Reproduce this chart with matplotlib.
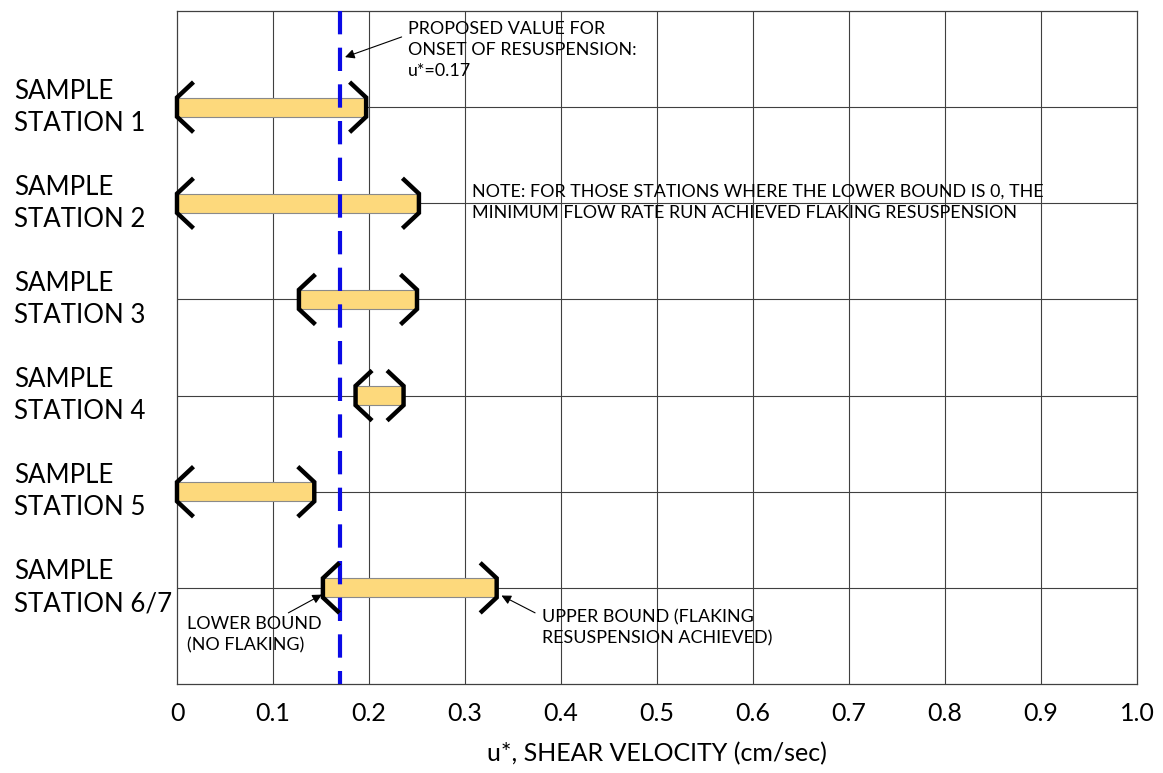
import numpy as np
import matplotlib.pyplot as plt
from matplotlib.transforms import blended_transform_factory

plt.rcParams['font.family'] = ['Lato', 'DejaVu Sans']

stations = ["SAMPLE\nSTATION 1", "SAMPLE\nSTATION 2", "SAMPLE\nSTATION 3",
            "SAMPLE\nSTATION 4", "SAMPLE\nSTATION 5", "SAMPLE\nSTATION 6/7"]
lower = [0.0, 0.0, 0.127, 0.186, 0.0, 0.152]
upper = [0.197, 0.252, 0.250, 0.236, 0.143, 0.333]
onset = 0.17
x_ticks = [0, 0.1, 0.2, 0.3, 0.4, 0.5, 0.6, 0.7, 0.8, 0.9, 1.0]
x_tick_labels = ["0", "0.1", "0.2", "0.3", "0.4", "0.5", "0.6", "0.7", "0.8", "0.9", "1.0"]

fig = plt.figure(figsize=(11.63, 7.73), dpi=100)
ax = fig.add_axes([177 / 1163, 1 - 684 / 773, 960 / 1163, 673 / 773])

rows = np.arange(1, len(stations) + 1)
ax.set_xlim(0, 1.0)
ax.set_ylim(7, 0)

# grid
for x in x_ticks[1:-1]:
    ax.axvline(x, color="#404040", lw=0.8, zorder=1)
for r in rows:
    ax.axhline(r, color="#404040", lw=0.8, zorder=1)
for s in ax.spines.values():
    s.set_color("#404040")
    s.set_linewidth(0.9)

# range bars
ax.barh(rows, np.array(upper) - np.array(lower), left=lower, height=0.2,
        color="#fdd97c", edgecolor="#8a8a8a", linewidth=0.8, zorder=2)

# bracket end caps
dx, tip, mid = 0.0155, 0.245, 0.1
for r, lo, hi in zip(rows, lower, upper):
    ax.plot([lo + dx, lo, lo, lo + dx], [r - tip, r - mid, r + mid, r + tip],
            color="black", lw=3.2, solid_joinstyle="miter", zorder=4, clip_on=False)
    ax.plot([hi - dx, hi, hi, hi - dx], [r - tip, r - mid, r + mid, r + tip],
            color="black", lw=3.2, solid_joinstyle="miter", zorder=4, clip_on=False)

# proposed onset line
ax.plot([onset, onset], [0, 7], color="#0a0ae6", lw=3.0,
        linestyle=(0, (5.6, 3.2)), zorder=3, clip_on=False)

# ticks / labels
ax.set_xticks(x_ticks)
ax.set_xticklabels(x_tick_labels, fontsize=18)
ax.tick_params(axis="x", length=0, pad=13)
ax.set_yticks([])
ax.set_xlabel("u*, SHEAR VELOCITY (cm/sec)", fontsize=18, labelpad=12)

trans = blended_transform_factory(fig.transFigure, ax.transData)
for r, name in zip(rows, stations):
    ax.text(14 / 1163, r, name, transform=trans, ha="left", va="center",
            fontsize=18.6, linespacing=1.36)

# annotations
fs = 12.9
arrow = dict(arrowstyle="-|>", color="black", lw=0.8,
             mutation_scale=14, shrinkA=0, shrinkB=0)
ax.text(0.2406, 0.41, "PROPOSED VALUE FOR\nONSET OF RESUSPENSION:\nu*=0.17",
        ha="left", va="center", fontsize=fs, linespacing=1.38)
ax.annotate("", xy=(0.175, 0.48), xytext=(0.234, 0.27), arrowprops=arrow)
ax.text(0.307, 1.99, "NOTE: FOR THOSE STATIONS WHERE THE LOWER BOUND IS 0, THE\n"
        "MINIMUM FLOW RATE RUN ACHIEVED FLAKING RESUSPENSION",
        ha="left", va="center", fontsize=fs, linespacing=1.38)
ax.text(0.010, 6.49, "LOWER BOUND\n(NO FLAKING)", ha="left", va="center",
        fontsize=fs, linespacing=1.38)
ax.annotate("", xy=(0.151, 6.07), xytext=(0.116, 6.26), arrowprops=arrow)
ax.text(0.38, 6.42, "UPPER BOUND (FLAKING\nRESUSPENSION ACHIEVED)", ha="left",
        va="center", fontsize=fs, linespacing=1.38)
ax.annotate("", xy=(0.338, 6.08), xytext=(0.373, 6.26), arrowprops=arrow)

fig.savefig("out.png", dpi=100)
